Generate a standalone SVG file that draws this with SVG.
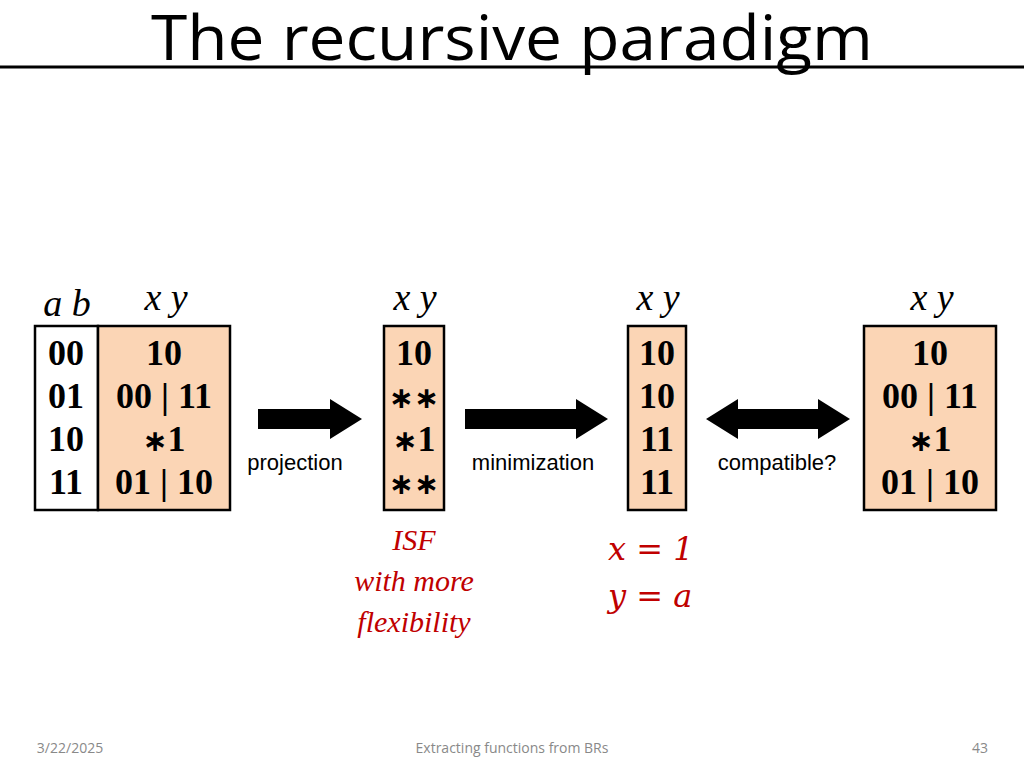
<svg xmlns="http://www.w3.org/2000/svg" width="1024" height="768" viewBox="0 0 1024 768">
<style>
.t{font-family:"Liberation Serif",serif;font-weight:bold;font-size:36px;text-anchor:middle}
.s{font-family:"DejaVu Sans",sans-serif;font-weight:bold;font-size:30px}
.h{font-family:"Liberation Serif",serif;font-style:italic;font-size:38px;text-anchor:middle}
.l{font-family:"Liberation Sans",sans-serif;font-size:22px;text-anchor:middle;fill:#000}
.r{font-family:"Liberation Serif",serif;font-style:italic;font-size:30px;text-anchor:middle;fill:#C00000}
.m{font-family:"DejaVu Serif",serif;font-style:italic;font-size:32px;fill:#C00000}
.f{font-family:"Open Sans",sans-serif;font-size:14px;fill:#898989;text-anchor:middle}
.pk{fill:#FBD5B5;stroke:#000;stroke-width:2.5}
</style>
<rect width="1024" height="768" fill="#fff"/>
<text x="512" y="60" font-family="Open Sans, sans-serif" font-size="62" text-anchor="middle" textLength="722" lengthAdjust="spacingAndGlyphs">The recursive paradigm</text>
<line x1="0" y1="67" x2="1024" y2="67" stroke="#000" stroke-width="3"/>
<g id="n1">
<rect x="35" y="326" width="63" height="184" fill="#fff" stroke="#000" stroke-width="2.5"/>
<text class="h" x="67" y="316">a b</text>
<text class="t" x="66" y="365">00</text><text class="t" x="66" y="408">01</text><text class="t" x="66" y="451">10</text><text class="t" x="66" y="494">11</text>
</g>
<g id="n2">
<rect class="pk" x="98" y="326" width="132" height="184"/>
<text class="h" x="166" y="310">x  y</text>
<text class="t" x="164" y="365">10</text><text class="t" x="164" y="408">00 | 11</text><text class="t" x="164" y="451"><tspan class="s">∗</tspan>1</text><text class="t" x="164" y="494">01 | 10</text>
</g>
<g id="n3">
<rect class="pk" x="384" y="326" width="60" height="184"/>
<text class="h" x="415" y="310">x y</text>
<text class="t" x="414" y="365">10</text><text class="t s" x="414" y="408">∗∗</text><text class="t" x="414" y="451"><tspan class="s">∗</tspan>1</text><text class="t s" x="414" y="494">∗∗</text>
</g>
<g id="n4">
<rect class="pk" x="628" y="326" width="58" height="184"/>
<text class="h" x="658" y="310">x y</text>
<text class="t" x="657" y="365">10</text><text class="t" x="657" y="408">10</text><text class="t" x="657" y="451">11</text><text class="t" x="657" y="494">11</text>
</g>
<g id="n5">
<rect class="pk" x="864" y="326" width="132" height="184"/>
<text class="h" x="932" y="310">x y</text>
<text class="t" x="930" y="365">10</text><text class="t" x="930" y="408">00 | 11</text><text class="t" x="930" y="451"><tspan class="s">∗</tspan>1</text><text class="t" x="930" y="494">01 | 10</text>
</g>
<g id="connectors" fill="#000">
<polygon points="258,409 330,409 330,399 362,419 330,439 330,429 258,429"/>
<polygon points="465,409 576,409 576,399 608,419 576,439 576,429 465,429"/>
<polygon points="706,419 738,399 738,409 818,409 818,399 850,419 818,439 818,429 738,429 738,439"/>
</g>
<text class="l" x="295" y="470">projection</text>
<text class="l" x="533" y="470">minimization</text>
<text class="l" x="777" y="470">compatible?</text>
<text class="r" x="414" y="550">ISF</text>
<text class="r" x="414" y="591">with more</text>
<text class="r" x="414" y="632">flexibility</text>
<text class="m" x="608" y="560">x = 1</text>
<text class="m" x="608" y="607">y = a</text>
<text class="f" x="70" y="753">3/22/2025</text>
<text class="f" x="512" y="753">Extracting functions from BRs</text>
<text class="f" x="980" y="753">43</text>
</svg>
